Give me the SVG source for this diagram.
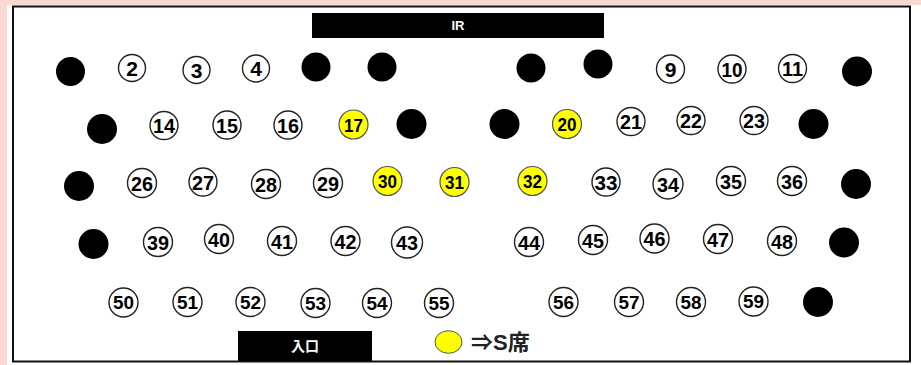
<svg xmlns="http://www.w3.org/2000/svg" width="921" height="365" viewBox="0 0 921 365">
<style>
.bg{fill:#FAD9D4}
.frame{fill:#fff;stroke:#111;stroke-width:2}
.bar{fill:#000}
.bartxt{fill:#fff;font-family:"Liberation Sans",Arial,sans-serif;font-weight:bold;text-anchor:middle}
.dot{fill:#000}
.seat circle{fill:#fff;stroke:#222;stroke-width:1.4}
.seat.s circle{fill:#FFFF00;stroke:#555;stroke-width:1.2}
.seat text{font-family:"Liberation Sans",Arial,sans-serif;font-weight:bold;font-size:21px;text-anchor:middle;fill:#000}
.seat.s text{font-size:19px}
.legend{font-family:"Liberation Sans","Noto Sans CJK JP",sans-serif;font-weight:bold;font-size:22px;fill:#222}
</style>
<rect class="bg" x="0" y="0" width="921" height="365"/>
<rect x="7" y="5" width="914" height="360" fill="#fff"/>
<rect class="frame" x="13" y="6.5" width="897" height="355"/>
<g id="ir">
<rect class="bar" x="312" y="13" width="292" height="25"/>
<text class="bartxt" x="458" y="30" font-size="13">IR</text>
</g>
<g id="entrance">
<rect class="bar" x="238" y="331" width="134" height="30"/>
<text class="bartxt" x="305" y="351" font-size="14" style="font-family:'Noto Sans CJK JP',sans-serif">入口</text>
</g>
<g id="legend">
<ellipse cx="448.5" cy="342" rx="13.5" ry="11.3" fill="#FFFF00" stroke="#555" stroke-width="1"/>
<text class="legend" x="471" y="350">⇒S席</text>
</g>
<g id="connectors"></g>
<g id="dots">
<circle class="dot" cx="70.5" cy="71.5" r="14.5"/>
<circle class="dot" cx="316" cy="67" r="14.5"/>
<circle class="dot" cx="382" cy="67" r="14.5"/>
<circle class="dot" cx="531" cy="68" r="14.5"/>
<circle class="dot" cx="598" cy="64" r="14.5"/>
<circle class="dot" cx="857" cy="71.5" r="15"/>
<circle class="dot" cx="102" cy="129" r="15"/>
<circle class="dot" cx="411.5" cy="124" r="15"/>
<circle class="dot" cx="504.5" cy="124" r="15"/>
<circle class="dot" cx="813.5" cy="124" r="15"/>
<circle class="dot" cx="79" cy="186" r="15"/>
<circle class="dot" cx="856" cy="184" r="15"/>
<circle class="dot" cx="93.5" cy="244" r="15"/>
<circle class="dot" cx="844" cy="242.5" r="15"/>
<circle class="dot" cx="818" cy="302" r="15"/>
</g>
<g id="seat2" class="seat"><circle cx="132" cy="68" r="13.5"/><text x="132" y="75.5">2</text></g>
<g id="seat3" class="seat"><circle cx="196.5" cy="70" r="13.5"/><text x="196.5" y="77.5">3</text></g>
<g id="seat4" class="seat"><circle cx="256" cy="68.5" r="13.5"/><text x="256" y="76">4</text></g>
<g id="seat9" class="seat"><circle cx="670.5" cy="69" r="14"/><text x="670.5" y="76.5">9</text></g>
<g id="seat10" class="seat"><circle cx="732" cy="69" r="14"/><text x="732" y="76.5" textLength="21" lengthAdjust="spacingAndGlyphs">10</text></g>
<g id="seat11" class="seat"><circle cx="792.5" cy="68.5" r="14"/><text x="792.5" y="76" textLength="21" lengthAdjust="spacingAndGlyphs">11</text></g>
<g id="seat14" class="seat"><circle cx="164" cy="125.5" r="14"/><text x="164" y="133" textLength="22" lengthAdjust="spacingAndGlyphs">14</text></g>
<g id="seat15" class="seat"><circle cx="227" cy="125" r="14"/><text x="227" y="132.5" textLength="22" lengthAdjust="spacingAndGlyphs">15</text></g>
<g id="seat16" class="seat"><circle cx="288" cy="125" r="14"/><text x="288" y="132.5" textLength="22" lengthAdjust="spacingAndGlyphs">16</text></g>
<g id="seat17" class="seat s"><circle cx="353.5" cy="124.5" r="14.5"/><text x="353.5" y="131.5" textLength="19" lengthAdjust="spacingAndGlyphs">17</text></g>
<g id="seat20" class="seat s"><circle cx="567" cy="124" r="14.5"/><text x="567" y="131" textLength="19" lengthAdjust="spacingAndGlyphs">20</text></g>
<g id="seat21" class="seat"><circle cx="631" cy="121.5" r="14"/><text x="631" y="129" textLength="22" lengthAdjust="spacingAndGlyphs">21</text></g>
<g id="seat22" class="seat"><circle cx="691" cy="120.5" r="14"/><text x="691" y="128" textLength="22" lengthAdjust="spacingAndGlyphs">22</text></g>
<g id="seat23" class="seat"><circle cx="754" cy="120.5" r="14"/><text x="754" y="128" textLength="22" lengthAdjust="spacingAndGlyphs">23</text></g>
<g id="seat26" class="seat"><circle cx="142" cy="183" r="14.5"/><text x="142" y="190.5" textLength="22" lengthAdjust="spacingAndGlyphs">26</text></g>
<g id="seat27" class="seat"><circle cx="203" cy="182" r="14"/><text x="203" y="189.5" textLength="22" lengthAdjust="spacingAndGlyphs">27</text></g>
<g id="seat28" class="seat"><circle cx="266" cy="184" r="14.5"/><text x="266" y="191.5" textLength="22" lengthAdjust="spacingAndGlyphs">28</text></g>
<g id="seat29" class="seat"><circle cx="328" cy="183" r="14.5"/><text x="328" y="190.5" textLength="22" lengthAdjust="spacingAndGlyphs">29</text></g>
<g id="seat30" class="seat s"><circle cx="387.5" cy="181" r="14.5"/><text x="387.5" y="188" textLength="19" lengthAdjust="spacingAndGlyphs">30</text></g>
<g id="seat31" class="seat s"><circle cx="454.5" cy="182" r="14.5"/><text x="454.5" y="189" textLength="19" lengthAdjust="spacingAndGlyphs">31</text></g>
<g id="seat32" class="seat s"><circle cx="532.5" cy="181" r="14.5"/><text x="532.5" y="188" textLength="19" lengthAdjust="spacingAndGlyphs">32</text></g>
<g id="seat33" class="seat"><circle cx="606" cy="182" r="14"/><text x="606" y="189.5" textLength="23" lengthAdjust="spacingAndGlyphs">33</text></g>
<g id="seat34" class="seat"><circle cx="668" cy="184" r="15"/><text x="668" y="191.5" textLength="22" lengthAdjust="spacingAndGlyphs">34</text></g>
<g id="seat35" class="seat"><circle cx="731" cy="181" r="14.5"/><text x="731" y="188.5" textLength="22" lengthAdjust="spacingAndGlyphs">35</text></g>
<g id="seat36" class="seat"><circle cx="792" cy="181" r="14.5"/><text x="792" y="188.5" textLength="22" lengthAdjust="spacingAndGlyphs">36</text></g>
<g id="seat39" class="seat"><circle cx="158" cy="242" r="14.5"/><text x="158" y="249.5" textLength="22" lengthAdjust="spacingAndGlyphs">39</text></g>
<g id="seat40" class="seat"><circle cx="219" cy="239" r="14.5"/><text x="219" y="246.5" textLength="22" lengthAdjust="spacingAndGlyphs">40</text></g>
<g id="seat41" class="seat"><circle cx="282" cy="241" r="14.5"/><text x="282" y="248.5" textLength="22" lengthAdjust="spacingAndGlyphs">41</text></g>
<g id="seat42" class="seat"><circle cx="345.5" cy="241" r="14.5"/><text x="345.5" y="248.5" textLength="22" lengthAdjust="spacingAndGlyphs">42</text></g>
<g id="seat43" class="seat"><circle cx="407" cy="242.5" r="15.5"/><text x="407" y="250" textLength="22" lengthAdjust="spacingAndGlyphs">43</text></g>
<g id="seat44" class="seat"><circle cx="529" cy="242" r="14.5"/><text x="529" y="249.5" textLength="22" lengthAdjust="spacingAndGlyphs">44</text></g>
<g id="seat45" class="seat"><circle cx="593" cy="240" r="14.5"/><text x="593" y="247.5" textLength="22" lengthAdjust="spacingAndGlyphs">45</text></g>
<g id="seat46" class="seat"><circle cx="654.5" cy="238.5" r="14.5"/><text x="654.5" y="246" textLength="22" lengthAdjust="spacingAndGlyphs">46</text></g>
<g id="seat47" class="seat"><circle cx="718" cy="239" r="14.5"/><text x="718" y="246.5" textLength="22" lengthAdjust="spacingAndGlyphs">47</text></g>
<g id="seat48" class="seat"><circle cx="782" cy="241" r="14.5"/><text x="782" y="248.5" textLength="22" lengthAdjust="spacingAndGlyphs">48</text></g>
<g id="seat50" class="seat"><circle cx="123.5" cy="302.5" r="14.5"/><text x="123.5" y="309" style="font-size:18px" textLength="21" lengthAdjust="spacingAndGlyphs">50</text></g>
<g id="seat51" class="seat"><circle cx="187.5" cy="302" r="14.5"/><text x="187.5" y="308.5" style="font-size:18px" textLength="21" lengthAdjust="spacingAndGlyphs">51</text></g>
<g id="seat52" class="seat"><circle cx="250.5" cy="302" r="14.5"/><text x="250.5" y="308.5" style="font-size:18px" textLength="21" lengthAdjust="spacingAndGlyphs">52</text></g>
<g id="seat53" class="seat"><circle cx="315.5" cy="303" r="14.5"/><text x="315.5" y="309.5" style="font-size:18px" textLength="21" lengthAdjust="spacingAndGlyphs">53</text></g>
<g id="seat54" class="seat"><circle cx="377" cy="303" r="14.5"/><text x="377" y="309.5" style="font-size:18px" textLength="21" lengthAdjust="spacingAndGlyphs">54</text></g>
<g id="seat55" class="seat"><circle cx="439" cy="303" r="14.5"/><text x="439" y="309.5" style="font-size:18px" textLength="21" lengthAdjust="spacingAndGlyphs">55</text></g>
<g id="seat56" class="seat"><circle cx="563.5" cy="302" r="14.5"/><text x="563.5" y="308.5" style="font-size:18px" textLength="21" lengthAdjust="spacingAndGlyphs">56</text></g>
<g id="seat57" class="seat"><circle cx="629" cy="302" r="14.5"/><text x="629" y="308.5" style="font-size:18px" textLength="21" lengthAdjust="spacingAndGlyphs">57</text></g>
<g id="seat58" class="seat"><circle cx="691" cy="302" r="14.5"/><text x="691" y="308.5" style="font-size:18px" textLength="21" lengthAdjust="spacingAndGlyphs">58</text></g>
<g id="seat59" class="seat"><circle cx="753.5" cy="301.5" r="14.5"/><text x="753.5" y="308" style="font-size:18px" textLength="21" lengthAdjust="spacingAndGlyphs">59</text></g>
</svg>
